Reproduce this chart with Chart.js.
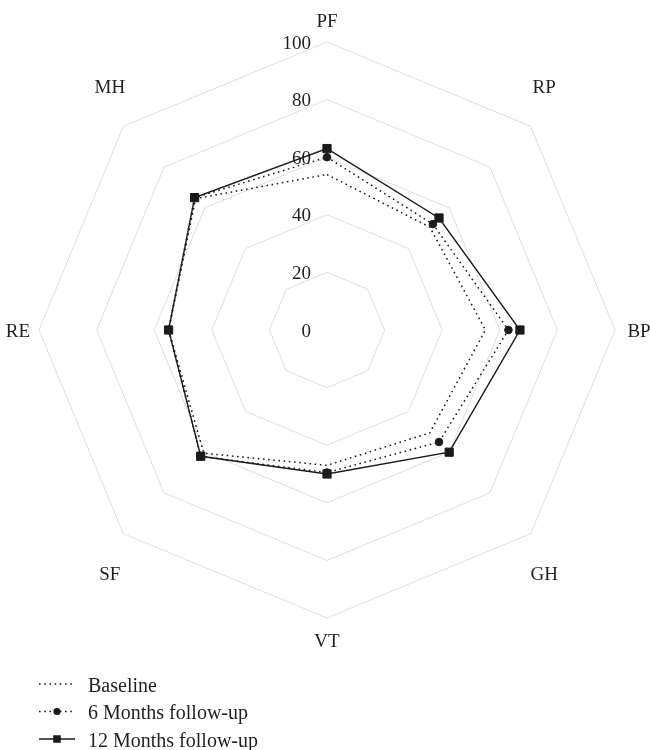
<!DOCTYPE html>
<html><head><meta charset="utf-8">
<script src="https://cdn.jsdelivr.net/npm/chart.js@4/dist/chart.umd.min.js"></script>
<style>html,body{margin:0;padding:0;background:#fff;}#wrap{width:650px;height:750px;position:relative;}</style>
</head><body><div id="wrap"><canvas id="c" width="650" height="750"></canvas></div>
<script>
const categories = ['PF', 'RP', 'BP', 'GH', 'VT', 'SF', 'RE', 'MH'];
const baseline = [54, 50.5, 55, 50.5, 47, 60.5, 55, 64.5];
const sixMonths = [60, 52, 63, 55, 49.5, 62, 55, 65];
const twelveMonths = [63, 55, 67, 60, 50, 62, 55, 65];
const tickValues = [0, 20, 40, 60, 80, 100];
const seriesNames = ['Baseline', '6 Months follow-up', '12 Months follow-up'];

const FONT = '"Liberation Serif", "Times New Roman", serif';
const TEXT = '#231f20';
const INK = '#1a1a1a';

const textPlugin = {
  id: 'customText',
  beforeDatasetsDraw(chart) {
    const s = chart.scales.r, ctx = chart.ctx;
    ctx.save();
    ctx.font = '19px ' + FONT;
    ctx.fillStyle = TEXT;
    ctx.textAlign = 'right';
    ctx.textBaseline = 'alphabetic';
    tickValues.forEach(v => {
      const d = s.getDistanceFromCenterForValue(v);
      ctx.fillText(String(v), s.xCenter - 16, s.yCenter - d + 6.5);
    });
    ctx.textAlign = 'center';
    categories.forEach((c, i) => {
      const p = s.getPointPosition(i, s.drawingArea + 22);
      let x = p.x, y = p.y;
      const dx = x - s.xCenter, dy = y - s.yCenter;
      if (Math.abs(dx) > 1 && Math.abs(dy) > 1) { y += Math.sign(dy) * 24; x -= Math.sign(dx) * 2; }
      else if (Math.abs(dy) <= 1) { x -= Math.sign(dx) * -2; if (dx < 0) x += 3; }
      ctx.fillText(c, x, y + 6.5);
    });
    ctx.restore();
  },
  afterDraw(chart) {
    const ctx = chart.ctx;
    chart.data.datasets.forEach((ds, k) => {
      const y = 684 + k * 27.5;
      ctx.save();
      ctx.strokeStyle = ds.borderColor;
      ctx.lineWidth = ds.borderWidth;
      ctx.setLineDash(ds.borderDash || []);
      ctx.beginPath(); ctx.moveTo(39, y); ctx.lineTo(75, y); ctx.stroke();
      ctx.setLineDash([]);
      if (ds.pointRadius > 0) {
        ctx.fillStyle = INK; ctx.strokeStyle = INK;
        Chart.helpers.drawPoint(ctx, {pointStyle: ds.pointStyle, radius: ds.pointRadius * 0.75, borderWidth: 1}, 57, y);
      }
      ctx.font = '20px ' + FONT;
      ctx.fillStyle = TEXT;
      ctx.textAlign = 'left';
      ctx.textBaseline = 'alphabetic';
      ctx.fillText(ds.label, 88, y + 7.5);
      ctx.restore();
    });
  }
};

new Chart(document.getElementById('c'), {
  type: 'radar',
  data: {
    labels: categories,
    datasets: [
      {label: seriesNames[0], data: baseline, borderColor: INK, borderWidth: 1.5, borderDash: [1.6, 3.6],
       pointRadius: 0, pointHoverRadius: 0, fill: false, backgroundColor: 'transparent', order: 3},
      {label: seriesNames[1], data: sixMonths, borderColor: INK, borderWidth: 1.5, borderDash: [1.6, 3.6],
       pointStyle: 'circle', pointRadius: 3.8, pointBorderWidth: 1, pointBackgroundColor: INK, pointBorderColor: INK,
       fill: false, backgroundColor: 'transparent', order: 2},
      {label: seriesNames[2], data: twelveMonths, borderColor: INK, borderWidth: 1.4, borderDash: [],
       pointStyle: 'rect', pointRadius: 5.8, pointBorderWidth: 1, pointBackgroundColor: INK, pointBorderColor: INK,
       fill: false, backgroundColor: 'transparent', order: 1}
    ]
  },
  options: {
    responsive: false,
    animation: false,
    layout: {padding: {left: 39, right: 35, top: 42, bottom: 132}},
    elements: {line: {tension: 0}},
    plugins: {legend: {display: false}, tooltip: {enabled: false}},
    scales: {
      r: {
        min: 0, max: 100,
        ticks: {stepSize: 20, display: false},
        grid: {color: '#dedede', lineWidth: 1},
        angleLines: {display: false},
        pointLabels: {display: false}
      }
    }
  },
  plugins: [textPlugin]
});
</script>
</body></html>
